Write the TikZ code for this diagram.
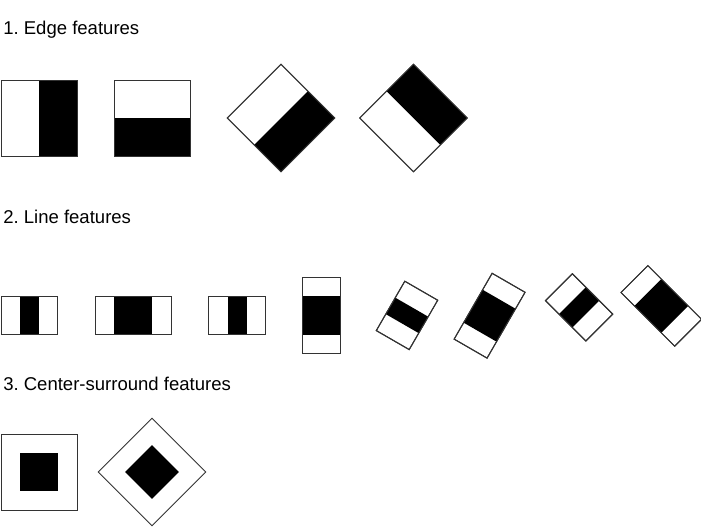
\documentclass[tikz,border=0pt]{standalone}
\usepackage{fontspec}
\setmainfont{Liberation Sans}
\frenchspacing
\begin{document}
\begin{tikzpicture}[x=0.75pt,y=-0.75pt,
  outl/.style={draw=black!80,line width=0.75pt,fill=white},
  band/.style={fill=black},
  title/.style={anchor=base west,inner sep=0pt,font=\fontsize{13.9pt}{16pt}\selectfont}]
\useasboundingbox[fill=white] (0,0) rectangle (701,526);
% titles
\node[title] (t1) at (3,34) {1. Edge features};
\node[title] (t2) at (3,223) {2. Line features};
\node[title] (t3) at (3,390.5) {3. Center-surround features};
% --- edge features
\path[outl] (1,80) rectangle (77,156);
\fill[band] (38.5,80) rectangle (77,156);
\draw[outl,fill=none] (1,80) rectangle (77,156);
\path[outl] (114,80) rectangle (190,156);
\fill[band] (114,117.5) rectangle (190,156);
\draw[outl,fill=none] (114,80) rectangle (190,156);
\begin{scope}[shift={(281,118)},rotate=-45]
  \path[outl] (-38,-38) rectangle (38,38);
  \fill[band] (0,-38) rectangle (38,38);
  \draw[outl,fill=none] (-38,-38) rectangle (38,38);
\end{scope}
\begin{scope}[shift={(413.5,118)},rotate=45]
  \path[outl] (-38,-38) rectangle (38,38);
  \fill[band] (0,-38) rectangle (38,38);
  \draw[outl,fill=none] (-38,-38) rectangle (38,38);
\end{scope}
% --- line features
\path[outl] (1,296) rectangle (57.5,334);
\fill[band] (19.5,296) rectangle (39,334);
\draw[outl,fill=none] (1,296) rectangle (57.5,334);
\path[outl] (95,296) rectangle (171,334);
\fill[band] (114,296) rectangle (152,334);
\draw[outl,fill=none] (95,296) rectangle (171,334);
\path[outl] (208.5,296) rectangle (265.5,334);
\fill[band] (227.5,296) rectangle (246.5,334);
\draw[outl,fill=none] (208.5,296) rectangle (265.5,334);
\path[outl] (302.5,277) rectangle (340.5,353);
\fill[band] (302.5,296) rectangle (340.5,334.5);
\draw[outl,fill=none] (302.5,277) rectangle (340.5,353);
\begin{scope}[shift={(407,315.4)},rotate=-30]
  \path[outl] (-19,-28.5) rectangle (19,28.5);
  \fill[band] (-19,-9.5) rectangle (19,9.5);
  \draw[outl,fill=none] (-19,-28.5) rectangle (19,28.5);
\end{scope}
\begin{scope}[shift={(489.6,315.7)},rotate=-30]
  \path[outl] (-19,-38) rectangle (19,38);
  \fill[band] (-19,-19) rectangle (19,19);
  \draw[outl,fill=none] (-19,-38) rectangle (19,38);
\end{scope}
\begin{scope}[shift={(579.1,307.4)},rotate=-45]
  \path[outl] (-28.5,-19) rectangle (28.5,19);
  \fill[band] (-9.5,-19) rectangle (9.5,19);
  \draw[outl,fill=none] (-28.5,-19) rectangle (28.5,19);
\end{scope}
\begin{scope}[shift={(661.3,305.9)},rotate=-45]
  \path[outl] (-38,-19) rectangle (38,19);
  \fill[band] (-19,-19) rectangle (19,19);
  \draw[outl,fill=none] (-38,-19) rectangle (38,19);
\end{scope}
% --- center-surround
\draw[outl] (1,434) rectangle (77,510);
\fill[band] (19.5,453) rectangle (57.5,491);
\begin{scope}[shift={(152,472)},rotate=45]
  \draw[outl] (-38,-38) rectangle (38,38);
  \fill[band] (-19,-19) rectangle (19,19);
\end{scope}
\end{tikzpicture}
\end{document}
